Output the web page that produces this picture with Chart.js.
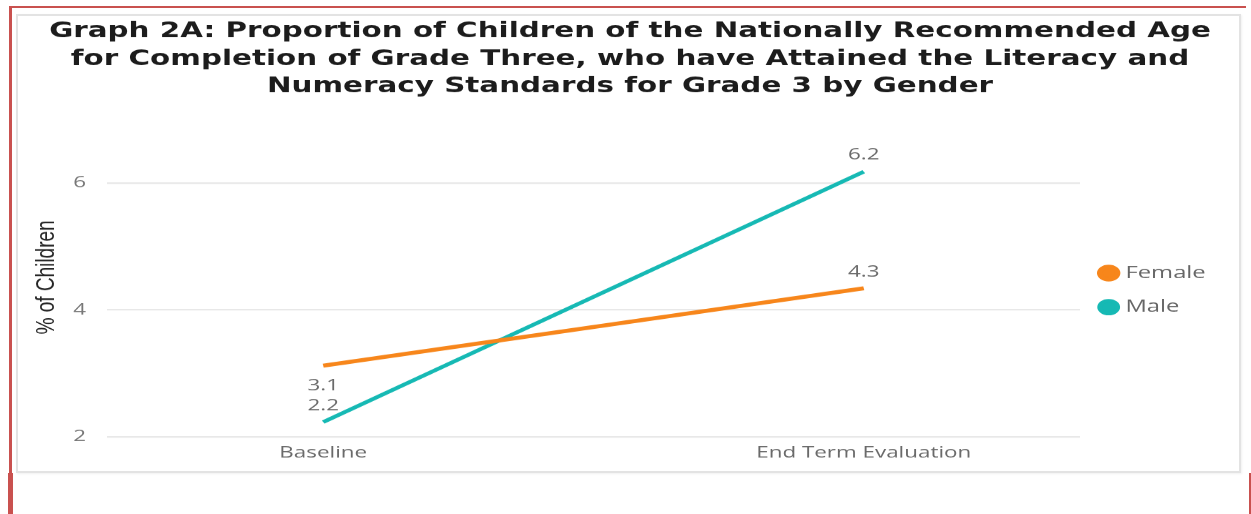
<!DOCTYPE html>
<html>
<head>
<meta charset="utf-8">
<script src="https://cdn.jsdelivr.net/npm/chart.js@4.4.1/dist/chart.umd.min.js"></script>
<style>
  html, body { margin: 0; padding: 0; background: #ffffff; }
  body { width: 1251px; height: 514px; position: relative; overflow: hidden; }
  .panel { position: absolute; left: 16px; top: 14px; width: 1221px; height: 455px;
           border: 2px solid #e3e3e3; background: #ffffff; box-shadow: 1px 1px 2px rgba(0,0,0,0.06); }
  .red { position: absolute; background: #c9514f; }
  #wrap { position: absolute; left: 0; top: 0; width: 894px; height: 514px;
          transform-origin: 0 0; }
  #c { display: block; width: 894px; height: 514px; }
</style>
</head>
<body>
<div class="panel"></div>
<div id="wrap"><canvas id="c" width="894" height="514"></canvas></div>
<div class="red" style="left:9px;top:6px;width:1237px;height:2px;"></div>
<div class="red" style="left:9px;top:6px;width:3px;height:508px;"></div>
<div class="red" style="left:8px;top:473px;width:5px;height:41px;"></div>
<div class="red" style="left:1249px;top:473px;width:1.5px;height:41px;"></div>
<script>
// ---------------- data ----------------
const categories = ['Baseline', 'End Term Evaluation'];
const seriesNames = ['Female', 'Male'];
const female = [3.12, 4.34];
const male = [2.23, 6.18];
const yTicks = [2, 4, 6];
const titleLines = [
  'Graph 2A: Proportion of Children of the Nationally Recommended Age',
  'for Completion of Grade Three, who have Attained the Literacy and',
  'Numeracy Standards for Grade 3 by Gender'
];
const yTitle = '% of Children';

// ---------------- layout (reference is horizontally stretched) ----------------
const CW = 894;
const S = 1251 / CW;
document.getElementById('wrap').style.transform = 'scaleX(' + S + ')';

const FONT = "'Open Sans', 'Noto Sans', sans-serif";
const legendFontSize = 17, legendPad = 17, legendBoxW = 7;
const mctx = document.createElement('canvas').getContext('2d');
mctx.font = 'normal ' + legendFontSize + 'px ' + FONT;
const maxTextW = Math.max(...seriesNames.map(t => mctx.measureText(t).width));
const legendW = legendPad + legendBoxW + legendFontSize / 2 + maxTextW + 10;

const plotLeftC = 107 / S, plotRightC = 1080 / S;
const padR = CW - plotRightC - legendW;
const padL = 2 * (630 / S) - plotRightC - legendW;
const yAxisW = plotLeftC - padL;
const yTitleSize = 19;
const yTitlePadTop = (46.5 / S) - padL - yTitleSize * 1.2 / 2;

const colors = ['#F7861B', '#16B9B4'];
const placement = [['below', 'above'], ['above', 'above']];

const dataLabels = {
  id: 'dataLabels',
  afterDatasetsDraw(chart) {
    const ctx = chart.ctx;
    ctx.save();
    ctx.font = 'normal 16px ' + FONT;
    ctx.fillStyle = '#6a6a6a';
    ctx.textAlign = 'center';
    ctx.textBaseline = 'middle';
    chart.data.datasets.forEach((ds, di) => {
      const meta = chart.getDatasetMeta(di);
      meta.data.forEach((pt, i) => {
        const v = ds.data[i].y;
        const off = placement[di][i] === 'above' ? -16.5 : 20;
        ctx.fillText(v.toFixed(1), pt.x, pt.y + off);
      });
    });
    ctx.restore();
  }
};

new Chart(document.getElementById('c'), {
  type: 'line',
  data: {
    datasets: [
      { label: seriesNames[0], data: female.map((y, i) => ({ x: i, y })),
        borderColor: colors[0], backgroundColor: colors[0], borderWidth: 4,
        pointRadius: 0, pointHoverRadius: 0, pointStyle: 'circle', tension: 0 },
      { label: seriesNames[1], data: male.map((y, i) => ({ x: i, y })),
        borderColor: colors[1], backgroundColor: colors[1], borderWidth: 3.6,
        pointRadius: 0, pointHoverRadius: 0, pointStyle: 'circle', tension: 0 }
    ]
  },
  options: {
    responsive: false,
    animation: false,
    devicePixelRatio: S,
    layout: { padding: { left: padL, right: padR, top: 0, bottom: 0 } },
    scales: {
      x: {
        type: 'linear', min: -0.4, max: 1.4,
        afterBuildTicks: (axis) => { axis.ticks = categories.map((c, i) => ({ value: i })); },
        afterFit: (axis) => { axis.height = 514 - 436.5; },
        grid: { display: false, drawTicks: false },
        border: { display: false },
        ticks: {
          callback: (v) => categories[v] !== undefined ? categories[v] : '',
          color: '#6a6a6a', font: { family: FONT, size: 16 }, padding: 6.4,
          maxRotation: 0, autoSkip: false
        }
      },
      y: {
        min: 2, max: 7.026,
        afterBuildTicks: (axis) => { axis.ticks = yTicks.map(v => ({ value: v })); },
        afterFit: (axis) => { axis.width = yAxisW; },
        grid: { color: '#e8e8e8', lineWidth: 1.6, drawTicks: false },
        border: { display: false },
        ticks: { color: '#777777', font: { family: FONT, size: 16 }, padding: 15 },
        title: {
          display: true, text: yTitle, color: '#262626',
          font: { family: "'Liberation Sans', Arial, sans-serif", size: yTitleSize },
          padding: { top: yTitlePadTop, bottom: 0 }
        }
      }
    },
    plugins: {
      title: {
        display: true, text: titleLines, color: '#1c1c1c',
        font: { family: "'DejaVu Sans', sans-serif", weight: 'bold', size: 21, lineHeight: 27.5 / 21 },
        padding: { top: 18.25, bottom: 17.25 }
      },
      legend: {
        display: true, position: 'right', align: 'center', fullSize: false,
        title: { display: true, text: '', font: { size: 10, lineHeight: 1.2 }, padding: { top: 6.75, bottom: 6.75 } },
        labels: {
          usePointStyle: true, pointStyle: 'circle',
          boxWidth: legendBoxW, boxHeight: 9, padding: legendPad,
          color: '#666666', font: { family: FONT, size: legendFontSize }
        }
      },
      tooltip: { enabled: false }
    }
  },
  plugins: [dataLabels]
});
</script>
</body>
</html>
